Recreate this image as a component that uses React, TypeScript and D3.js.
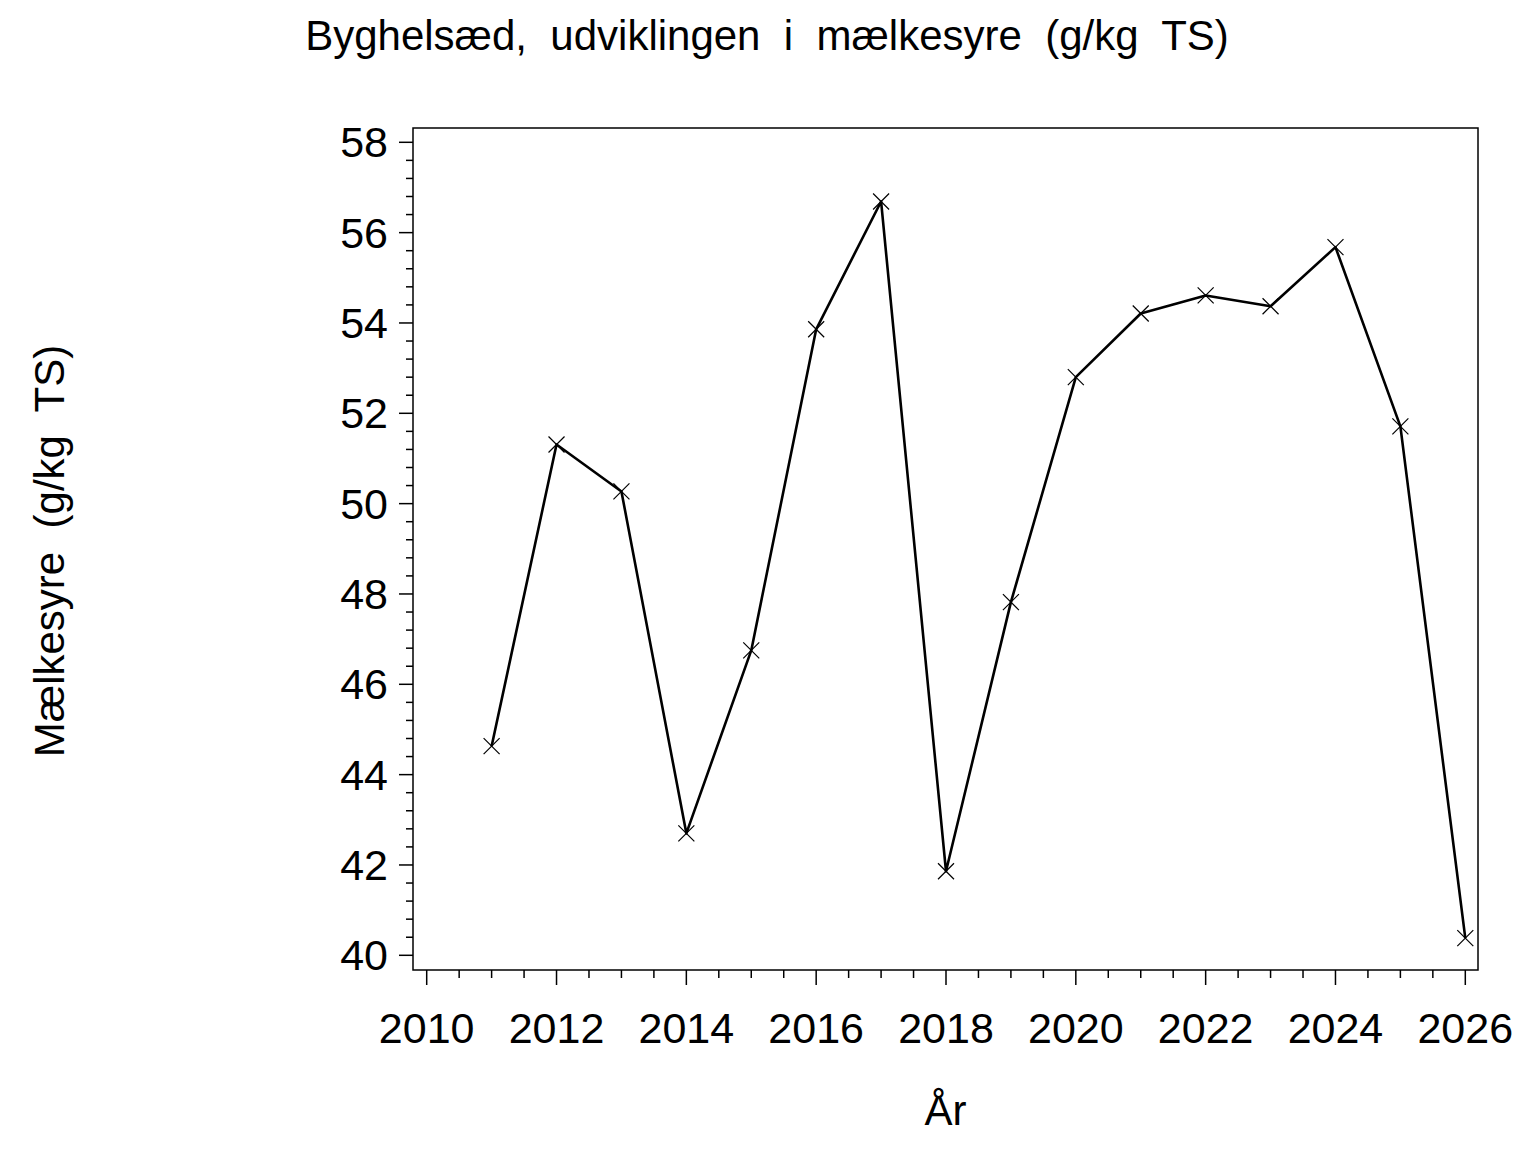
import * as d3 from "d3";
import { useEffect, useRef } from "react";

const years = [2011, 2012, 2013, 2014, 2015, 2016, 2017, 2018, 2019, 2020, 2021, 2022, 2023, 2024, 2025, 2026];
const lacticAcid = [44.63, 51.31, 50.27, 42.7, 46.75, 53.86, 56.69, 41.86, 47.82, 52.8, 54.21, 54.61, 54.37, 55.68, 51.71, 40.38];
const xTicks = [2010, 2012, 2014, 2016, 2018, 2020, 2022, 2024, 2026];
const yTicks = [40, 42, 44, 46, 48, 50, 52, 54, 56, 58];

const title = "Byghelsæd,  udviklingen  i  mælkesyre  (g/kg  TS)";
const yTitle = "Mælkesyre  (g/kg  TS)";
const xTitle = "År";

export default function App() {
  const ref = useRef<SVGSVGElement | null>(null);

  useEffect(() => {
    if (!ref.current) return;
    const svg = d3.select(ref.current);
    svg.selectAll("*").remove();

    const width = 1536;
    const height = 1152;
    const frame = { left: 413, right: 1478, top: 128, bottom: 970 };
    const font = "'Liberation Sans', Arial, sans-serif";

    const x = d3.scaleLinear().domain([2010, 2026]).range([426.7, 1465.3]);
    const y = d3.scaleLinear().domain([40, 58]).range([955.3, 142.3]);

    svg.attr("width", width).attr("height", height);
    svg.append("rect").attr("width", width).attr("height", height).attr("fill", "white");

    // frame
    svg
      .append("rect")
      .attr("x", frame.left)
      .attr("y", frame.top)
      .attr("width", frame.right - frame.left)
      .attr("height", frame.bottom - frame.top)
      .attr("fill", "none")
      .attr("stroke", "black")
      .attr("stroke-width", 1.5);

    // y axis
    const yMinor = d3.range(40, 58.001, 0.4);
    svg
      .append("g")
      .selectAll("line")
      .data(yMinor)
      .join("line")
      .attr("x1", (d) => (yTicks.some((t) => Math.abs(t - d) < 1e-6) ? frame.left - 14 : frame.left - 7))
      .attr("x2", frame.left)
      .attr("y1", (d) => y(d))
      .attr("y2", (d) => y(d))
      .attr("stroke", "black")
      .attr("stroke-width", 1.5);

    svg
      .append("g")
      .selectAll("text")
      .data(yTicks)
      .join("text")
      .attr("x", 388)
      .attr("y", (d) => y(d) + 15)
      .attr("text-anchor", "end")
      .attr("font-family", font)
      .attr("font-size", 43)
      .text((d) => d);

    // x axis
    const xMinor = d3.range(2010, 2026.001, 0.5);
    svg
      .append("g")
      .selectAll("line")
      .data(xMinor)
      .join("line")
      .attr("x1", (d) => x(d))
      .attr("x2", (d) => x(d))
      .attr("y1", frame.bottom)
      .attr("y2", (d) => (xTicks.includes(d) ? frame.bottom + 15 : frame.bottom + 8))
      .attr("stroke", "black")
      .attr("stroke-width", 1.5);

    svg
      .append("g")
      .selectAll("text")
      .data(xTicks)
      .join("text")
      .attr("x", (d) => x(d))
      .attr("y", 1043)
      .attr("text-anchor", "middle")
      .attr("font-family", font)
      .attr("font-size", 43)
      .text((d) => d);

    // titles
    svg
      .append("text")
      .attr("x", 767)
      .attr("y", 50)
      .attr("text-anchor", "middle")
      .attr("font-family", font)
      .attr("font-size", 42)
      .style("white-space", "pre")
      .text(title);

    svg
      .append("text")
      .attr("x", 945.5)
      .attr("y", 1125)
      .attr("text-anchor", "middle")
      .attr("font-family", font)
      .attr("font-size", 42)
      .text(xTitle);

    svg
      .append("text")
      .attr("transform", "translate(64,551) rotate(-90)")
      .attr("text-anchor", "middle")
      .attr("font-family", font)
      .attr("font-size", 42)
      .style("white-space", "pre")
      .text(yTitle);

    // line
    const data = years.map((yr, i) => ({ yr, v: lacticAcid[i] }));
    const line = d3
      .line<{ yr: number; v: number }>()
      .x((d) => x(d.yr))
      .y((d) => y(d.v));
    svg
      .append("path")
      .datum(data)
      .attr("d", line)
      .attr("fill", "none")
      .attr("stroke", "black")
      .attr("stroke-width", 2.6)
      .attr("stroke-linejoin", "round");

    // markers
    const s = 8;
    svg
      .append("g")
      .selectAll("path")
      .data(data)
      .join("path")
      .attr(
        "d",
        (d) =>
          `M${x(d.yr) - s},${y(d.v) - s}L${x(d.yr) + s},${y(d.v) + s}M${x(d.yr) - s},${y(d.v) + s}L${x(d.yr) + s},${y(d.v) - s}`
      )
      .attr("stroke", "black")
      .attr("stroke-width", 1.2)
      .attr("fill", "none");
  }, []);

  return <svg ref={ref} style={{ position: "absolute", left: 0, top: 0, display: "block" }} />;
}
